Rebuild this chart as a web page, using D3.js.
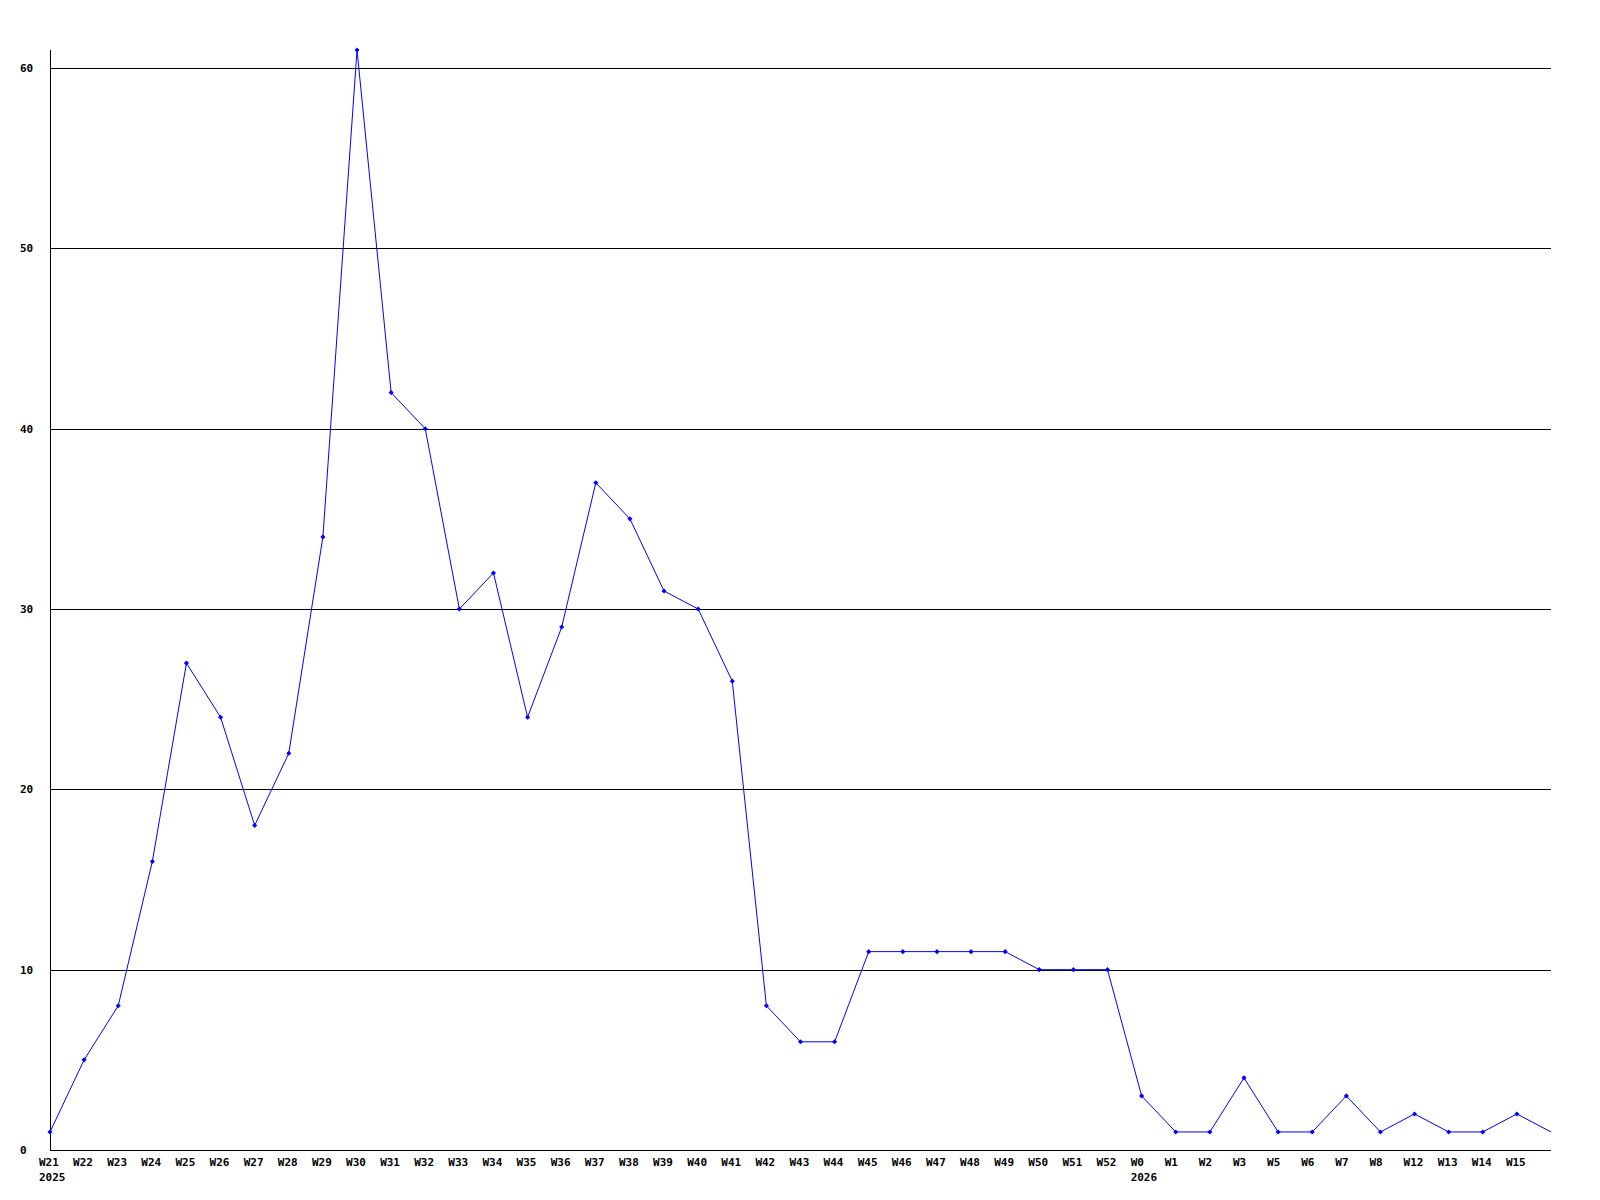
<!DOCTYPE html>
<html>
<head>
<meta charset="utf-8">
<script src="https://cdn.jsdelivr.net/npm/d3@7"></script>
<style>
  html, body { margin: 0; padding: 0; background: #fff; }
  svg { display: block; }
  text { font-family: "DejaVu Sans Mono", "Liberation Mono", monospace; font-weight: bold; font-size: 11px; fill: #000; }
</style>
</head>
<body>
<svg id="chart" width="1600" height="1200"></svg>
<script>
const categories = ["W21","W22","W23","W24","W25","W26","W27","W28","W29","W30","W31","W32","W33","W34","W35","W36","W37","W38","W39","W40","W41","W42","W43","W44","W45","W46","W47","W48","W49","W50","W51","W52","W0","W1","W2","W3","W5","W6","W7","W8","W12","W13","W14","W15",""];
const yearLabels = ["2025","","","","","","","","","","","","","","","","","","","","","","","","","","","","","","","","2026","","","","","","","","","","","",""];
const values = [1,5,8,16,27,24,18,22,34,61,42,40,30,32,24,29,37,35,31,30,26,8,6,6,11,11,11,11,11,10,10,10,3,1,1,4,1,1,3,1,2,1,1,2,1];
const yTicks = [0,10,20,30,40,50,60];

(function () {
const svg = d3.select("#chart");
const pLeft = 50, pRight = 1551, pTop = 50, pBottom = 1150;

const x = d3.scalePoint().domain(d3.range(values.length)).range([pLeft, pRight]);
const y = d3.scaleLinear().domain([0, d3.max(values)]).range([pBottom, pTop]);

// gridlines
svg.append("g").selectAll("line").data(yTicks.filter(d => d > 0)).join("line")
  .attr("x1", pLeft).attr("x2", pRight)
  .attr("y1", d => Math.round(y(d)) + 0.5).attr("y2", d => Math.round(y(d)) + 0.5)
  .attr("stroke", "#000").attr("stroke-width", 1).attr("shape-rendering", "crispEdges");

// axes lines
svg.append("line").attr("x1", pLeft + 0.5).attr("x2", pLeft + 0.5).attr("y1", pTop).attr("y2", pBottom)
  .attr("stroke", "#000").attr("shape-rendering", "crispEdges");
svg.append("line").attr("x1", pLeft).attr("x2", pRight).attr("y1", pBottom + 0.5).attr("y2", pBottom + 0.5)
  .attr("stroke", "#000").attr("shape-rendering", "crispEdges");

// y labels
svg.append("g").selectAll("text").data(yTicks).join("text")
  .attr("x", 20).attr("y", d => y(d) + 4)
  .text(d => d);

// x labels
svg.append("g").selectAll("text").data(categories).join("text")
  .attr("x", (d, i) => x(i) - 11).attr("y", 1166)
  .text(d => d);
svg.append("g").selectAll("text").data(yearLabels).join("text")
  .attr("x", (d, i) => x(i) - 11).attr("y", 1181)
  .text(d => d);

// line
const line = d3.line().x((d, i) => x(i)).y(d => y(d));
svg.append("path").datum(values).attr("d", line)
  .attr("fill", "none").attr("stroke", "#0000ff").attr("stroke-width", 1);

// markers: small square diamond
const squareDiamond = {
  draw(ctx, size) {
    const r = Math.sqrt(size / 2);
    ctx.moveTo(0, -r); ctx.lineTo(r, 0); ctx.lineTo(0, r); ctx.lineTo(-r, 0); ctx.closePath();
  }
};
svg.append("g").selectAll("path").data(values.slice(0, values.length - 1)).join("path")
  .attr("transform", (d, i) => `translate(${x(i)},${y(d)})`)
  .attr("d", d3.symbol(squareDiamond, 13))
  .attr("fill", "#0000ff");
})();
</script>
</body>
</html>
